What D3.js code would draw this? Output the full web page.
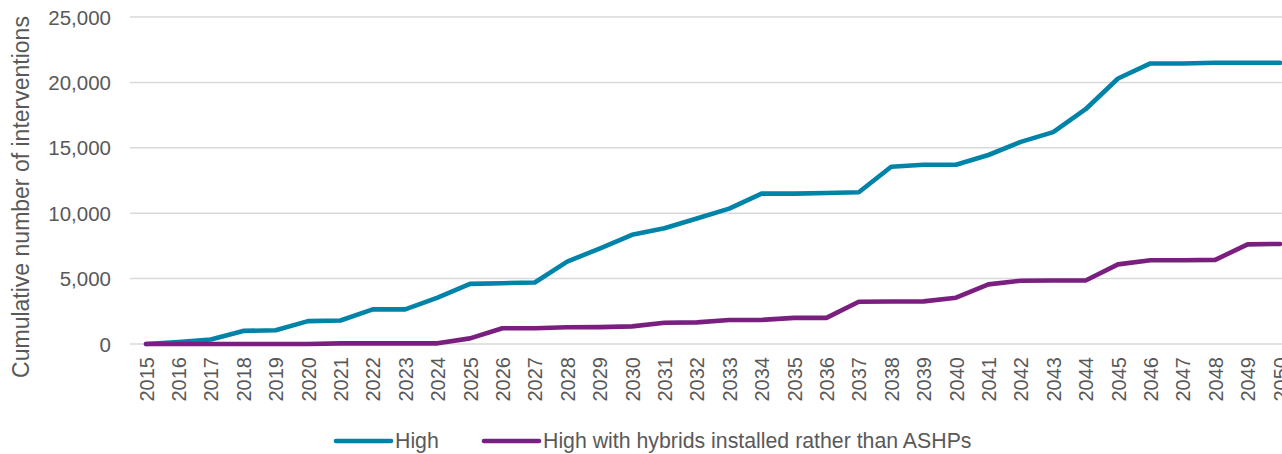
<!DOCTYPE html>
<html>
<head>
<meta charset="utf-8">
<script src="https://cdn.jsdelivr.net/npm/d3@7"></script>
<style>
  body { margin: 0; background: #fff; }
  text { font-family: "Liberation Sans", Arial, sans-serif; fill: #595959; }
</style>
</head>
<body>
<div id="chart"></div>
<script>
// values
const years = d3.range(2015, 2051).map(String);
const high = [0, 150, 350, 1000, 1050, 1750, 1800, 2650, 2650, 3550,
  4600, 4650, 4700, 6300, 7300, 8350, 8850, 9600, 10350, 11500,
  11500, 11550, 11600, 13550, 13700, 13700, 14450, 15450, 16200, 17950,
  20300, 21450, 21450, 21500, 21500, 21500];
const hybrid = [0, 0, 0, 0, 0, 0, 50, 50, 50, 50,
  430, 1200, 1200, 1280, 1290, 1350, 1630, 1650, 1830, 1840,
  2000, 2000, 3230, 3250, 3260, 3540, 4560, 4840, 4850, 4850,
  6090, 6400, 6400, 6430, 7620, 7650];
const yTicks = [0, 5000, 10000, 15000, 20000, 25000];
const seriesNames = ["High", "High with hybrids installed rather than ASHPs"];
const colors = ["#0083a9", "#7a1f7f"];

const W = 1282, H = 454;
const svg = d3.select("#chart").append("svg").attr("width", W).attr("height", H);

const step = 32.4;
const x = d3.scalePoint().domain(years).range([146, 146 + step * 35]);
const y = d3.scaleLinear().domain([0, 25000]).range([344, 17]);

// gridlines
svg.append("g").selectAll("line").data(yTicks).enter().append("line")
  .attr("x1", 130).attr("x2", W)
  .attr("y1", d => y(d)).attr("y2", d => y(d))
  .attr("stroke", "#d9d9d9").attr("stroke-width", 1.5);

// y axis labels
const yAxis = d3.axisLeft(y).tickValues(yTicks).tickFormat(d3.format(",")).tickSize(0).tickPadding(0);
const ga = svg.append("g").attr("transform", "translate(111,0)").call(yAxis);
ga.select(".domain").remove();
ga.selectAll("text").style("font-size", "20.5px").attr("fill", "#595959")
  .style("font-family", "Liberation Sans, Arial, sans-serif").attr("dy", "0.35em");

// x axis labels
const xAxis = d3.axisBottom(x).tickSize(0).tickPadding(0);
const gx = svg.append("g").attr("transform", "translate(0,357)").call(xAxis);
gx.select(".domain").remove();
gx.selectAll("text").style("font-size", "20px").attr("fill", "#595959")
  .style("font-family", "Liberation Sans, Arial, sans-serif")
  .attr("text-anchor", "end").attr("transform", "rotate(-90)")
  .attr("x", 0).attr("y", 0).attr("dx", 0).attr("dy", "0.35em");

// axis title
svg.append("text")
  .attr("transform", "translate(29,197) rotate(-90)")
  .attr("text-anchor", "middle")
  .style("font-size", "23px")
  .text("Cumulative number of interventions");

// lines
const line = d3.line().x((d, i) => x(years[i])).y(d => y(d));
[high, hybrid].forEach((s, i) => {
  svg.append("path").datum(s)
    .attr("fill", "none").attr("stroke", colors[i]).attr("stroke-width", 4.6)
    .attr("stroke-linejoin", "round").attr("stroke-linecap", "round")
    .attr("d", line);
});

// legend
const legX = [336, 484];
seriesNames.forEach((n, i) => {
  const g = svg.append("g").attr("transform", `translate(${legX[i]},441)`);
  g.append("line").attr("x1", 0).attr("x2", 55).attr("y1", 0).attr("y2", 0)
    .attr("stroke", colors[i]).attr("stroke-width", 4.6).attr("stroke-linecap", "round");
  g.append("text").attr("x", 59).attr("dy", "0.35em").style("font-size", "21.3px").text(n);
});
</script>
</body>
</html>
